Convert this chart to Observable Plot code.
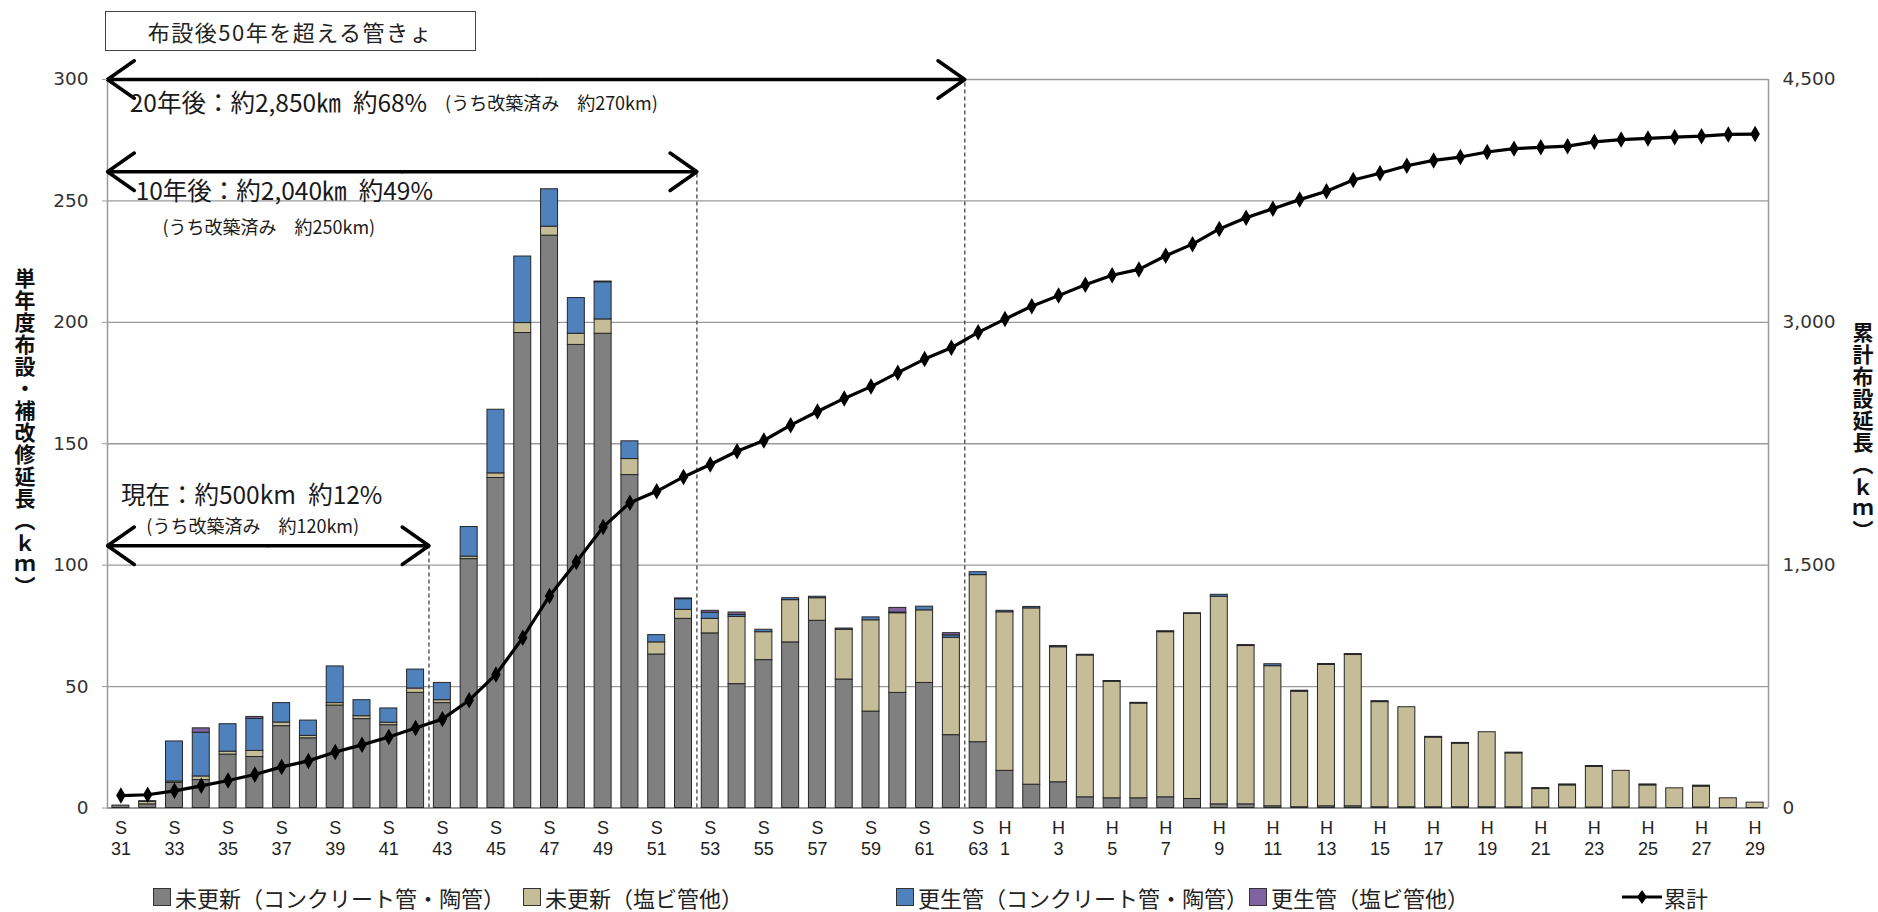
<!DOCTYPE html>
<html>
<head>
<meta charset="utf-8">
<script src="https://cdn.jsdelivr.net/npm/d3@7"></script>
<script src="https://cdn.jsdelivr.net/npm/@observablehq/plot@0.6"></script>
<style>
  body { margin: 0; background: #fff; font-family: "Noto Sans CJK JP", sans-serif; }
  #wrap { position: relative; width: 1878px; height: 912px; overflow: hidden; background: #fff; }
  #chart { position: absolute; left: 0; top: 0; }
  .titlebox { position: absolute; left: 105px; top: 11px; width: 371px; height: 40px; box-sizing: border-box;
    border: 1px solid #444; display: flex; align-items: center; justify-content: center;
    font-size: 22px; color: #222; letter-spacing: 1.5px; }
  .vtitle { position: absolute; writing-mode: vertical-rl; text-orientation: upright; font-weight: bold;
    font-size: 21px; color: #111; letter-spacing: 1px; }
  .legend-item { position: absolute; top: 881px; display: flex; align-items: center; font-size: 22px; color: #222; white-space: nowrap; }
  .sw { width: 16px; height: 16px; border: 1px solid #333; margin-right: 4px; }
</style>
</head>
<body>
<div id="wrap"></div>
<script>
// ---- categories (fiscal years) ----
const categories = [
  "S31","S32","S33","S34","S35","S36","S37","S38","S39","S40","S41","S42","S43","S44","S45","S46","S47",
  "S48","S49","S50","S51","S52","S53","S54","S55","S56","S57","S58","S59","S60","S61","S62","S63",
  "H1","H2","H3","H4","H5","H6","H7","H8","H9","H10","H11","H12","H13","H14","H15","H16","H17","H18",
  "H19","H20","H21","H22","H23","H24","H25","H26","H27","H28","H29"
];
// ---- series values (km per year) ----
const unrenewedConcrete = [
  1.0,1.5,10.3,11.5,22.0,21.0,33.7,28.7,42.2,36.6,34.1,47.4,43.2,102.5,135.9,195.6,235.7,
  190.7,195.3,137.1,63.2,77.9,71.9,51.0,60.9,68.2,77.1,52.9,39.7,47.4,51.5,30.0,27.1,
  15.3,9.6,10.6,4.4,4.0,4.0,4.4,3.7,1.5,1.5,0.7,0.3,0.7,0.7,0.3,0.3,0.3,0.3,
  0.3,0.3,0.2,0.2,0.2,0.2,0.2,0,0.2,0,0
];
const unrenewedPVC = [
  0,1.0,0.6,1.5,1.2,2.5,1.5,1.0,1.0,1.2,1.0,1.8,1.2,1.0,1.9,4.1,3.7,
  4.6,5.9,6.6,5.0,3.7,6.0,27.7,11.5,17.4,9.3,20.5,37.6,32.8,29.9,40.1,68.8,
  65.3,72.6,55.6,58.4,48.0,39.0,68.0,76.2,85.5,65.2,57.7,47.6,58.2,62.3,43.3,41.2,28.7,26.2,
  30.9,22.2,7.6,9.1,16.7,15.1,9.1,8.1,8.6,4.0,2.2
];
const renewedConcrete = [
  0,0.3,16.5,18.0,11.3,13.2,8.0,6.3,15.1,6.6,5.9,7.8,7.1,12.2,26.2,27.4,15.4,
  14.7,15.3,7.3,3.0,4.4,2.5,0.8,1.0,0.8,0.6,0.5,1.2,0.3,1.5,1.0,1.2,
  0.6,0.6,0.5,0.3,0.3,0.3,0.4,0.3,0.8,0.4,0.8,0.4,0.4,0.4,0.4,0,0.3,0.3,
  0,0.3,0.4,0.4,0.4,0,0.4,0,0.4,0,0
];
const renewedPVC = [
  0,0,0,1.8,0,0.8,0,0,0,0,0,0,0,0,0,0,0,
  0,0.3,0,0,0.3,0.8,1.0,0,0,0,0,0,1.9,0,0.9,0,
  0,0,0,0,0,0,0,0,0,0,0,0,0,0,0,0,0,0,
  0,0,0,0,0,0,0,0,0,0,0
];
// ---- cumulative length (km, right axis) ----
const cumulative = [
  77,82,106,137,170,207,254,291,346,390,439,494,549,666,825,1052,1310,
  1520,1736,1886,1956,2045,2122,2204,2270,2365,2449,2530,2603,2689,2773,2843,2938,
  3020,3099,3165,3232,3291,3327,3411,3483,3577,3646,3702,3758,3810,3879,3921,3967,4000,4021,
  4052,4073,4081,4088,4115,4129,4136,4144,4150,4161,4163
];
const seriesNames = ["未更新（コンクリート管・陶管）","未更新（塩ビ管他）","更生管（コンクリート管・陶管）","更生管（塩ビ管他）"];
const seriesColors = ["#808080","#C4BD97","#4F81BD","#8064A2"];
const cumulativeName = "累計";
// ---- tick labels ----
const leftTicks = [0,50,100,150,200,250,300];
const rightTicks = [0,1500,3000,4500];
const labeledCategories = ["S31","S33","S35","S37","S39","S41","S43","S45","S47","S49","S51","S53","S55","S57","S59","S61","S63",
  "H1","H3","H5","H7","H9","H11","H13","H15","H17","H19","H21","H23","H25","H27","H29"];
// ---- annotations: span from first year to end of given year, at left-axis level ----
const spanEnds = ["S42","S52","S62"];
const spanLevels = [108,262,300];
const headNotes = ["現在：約500km\u2002約12%","10年後：約2,040㎞\u2002約49%","20年後：約2,850㎞\u2002約68%"];
const headNoteAt = [[0.5,128.5],[1.05,253.5],[0.83,290]];
const subNotes = ["(うち改築済み　約120km)","(うち改築済み　約250km)","(うち改築済み　約270km)"];
const subNoteAt = [[1.45,115.5],[2.05,238.7],[12.6,289.8]];
const titleText = "布設後50年を超える管きょ";
const leftTitle = "単年度布設・補改修延長（ｋｍ）";
const rightTitle = "累計布設延長（ｋｍ）";

// ---- build tables ----
const series = [unrenewedConcrete, unrenewedPVC, renewedConcrete, renewedPVC];
const rows = [];
series.forEach((vals, s) => vals.forEach((v, i) => rows.push({i, i2: i + 1, v, s: seriesNames[s]})));
const cumRows = cumulative.map((c, i) => ({i, c}));
const idx = name => categories.indexOf(name);
const spans = spanEnds.map((e, k) => ({end: idx(e) + 1, mid: (idx(e) + 1) / 2, y: spanLevels[k]}));
const heads = headNotes.map((t, k) => ({t, x: headNoteAt[k][0], y: headNoteAt[k][1]}));
const subs = subNotes.map((t, k) => ({t, x: subNoteAt[k][0], y: subNoteAt[k][1]}));
const RATIO = 4500 / 300;
const nCat = categories.length;
const tickPos = labeledCategories.map(c => idx(c) + 0.5);
const tickFont = "'Liberation Sans', 'DejaVu Sans', sans-serif";

const chart = Plot.plot({
  width: 1878,
  height: 870,
  marginLeft: 107,
  marginRight: 110,
  marginTop: 79,
  marginBottom: 62.5,
  style: {fontFamily: "'Noto Sans CJK JP', sans-serif", background: "#fff", overflow: "visible"},
  x: {type: "linear", domain: [0, nCat], axis: null},
  y: {domain: [0, 300], axis: null},
  color: {domain: seriesNames, range: seriesColors},
  marks: [
    Plot.gridY(leftTicks.slice(1), {stroke: "#9a9a9a", strokeOpacity: 1, strokeWidth: 1.3}),
    Plot.ruleX([0, nCat], {stroke: "#9a9a9a", strokeWidth: 1.5}),
    Plot.ruleY([0], {stroke: "#9a9a9a", strokeWidth: 2}),
    Plot.rectY(rows, {x1: "i", x2: "i2", y: "v", fill: "s", insetLeft: 4.9, insetRight: 4.9,
      stroke: "#262626", strokeWidth: 1}),
    Plot.ruleX(spans, {x: "end", y1: 0, y2: "y", stroke: "#444", strokeWidth: 1.3, strokeDasharray: "4,3"}),
    Plot.line(cumRows, {x: d => d.i + 0.5, y: d => d.c / RATIO, stroke: "#000", strokeWidth: 3.2}),
    Plot.dot(cumRows, {x: d => d.i + 0.5, y: d => d.c / RATIO, symbol: "diamond", r: 5, fill: "#000"}),
    Plot.arrow(spans, {x1: "mid", x2: 0, y1: "y", y2: "y", stroke: "#000", strokeWidth: 3.5, headLength: 14, headAngle: 70}),
    Plot.arrow(spans, {x1: "mid", x2: "end", y1: "y", y2: "y", stroke: "#000", strokeWidth: 3.5, headLength: 14, headAngle: 70}),
    Plot.text(heads, {x: "x", y: "y", text: "t", textAnchor: "start", fontSize: 24.5, fill: "#1a1a1a"}),
    Plot.text(subs, {x: "x", y: "y", text: "t", textAnchor: "start", fontSize: 18, fill: "#1a1a1a"}),
    Plot.axisY(leftTicks, {anchor: "left", tickSize: 5, tickPadding: 14, stroke: "#9a9a9a", label: null,
      fontSize: 18.5, fontFamily: "'DejaVu Sans', sans-serif", fill: "#333"}),
    Plot.axisY(rightTicks.map(v => v / RATIO), {anchor: "right", tickSize: 0, tickPadding: 14, label: null,
      tickFormat: d => d3.format(",")(Math.round(d * RATIO)),
      fontSize: 18.5, fontFamily: "'DejaVu Sans', sans-serif", fill: "#333"}),
    // era letter line
    Plot.axisX(tickPos, {anchor: "bottom", tickSize: 0, tickPadding: 13, label: null,
      tickFormat: d => categories[Math.floor(d)][0],
      fontSize: 18, fontFamily: tickFont, fill: "#222"}),
    // year number line
    Plot.axisX(tickPos, {anchor: "bottom", tickSize: 0, tickPadding: 34.5, label: null,
      tickFormat: d => categories[Math.floor(d)].slice(1),
      fontSize: 18, fontFamily: tickFont, fill: "#222"})
  ]
});
chart.id = "chart";
const wrap = document.getElementById("wrap");
wrap.appendChild(chart);

// title box
const tb = document.createElement("div");
tb.className = "titlebox"; tb.textContent = titleText; wrap.appendChild(tb);
// axis titles
const lt = document.createElement("div");
lt.className = "vtitle"; lt.textContent = leftTitle;
lt.style.left = "10px"; lt.style.top = "268px"; wrap.appendChild(lt);
const rt = document.createElement("div");
rt.className = "vtitle"; rt.textContent = rightTitle;
rt.style.left = "1848px"; rt.style.top = "322px"; wrap.appendChild(rt);

// legend
const legendLeft = [153, 523, 896, 1249];
seriesNames.forEach((n, k) => {
  const it = document.createElement("div");
  it.className = "legend-item"; it.style.left = legendLeft[k] + "px";
  it.innerHTML = `<div class="sw" style="background:${seriesColors[k]}"></div><span>${n}</span>`;
  wrap.appendChild(it);
});
const li = document.createElement("div");
li.className = "legend-item"; li.style.left = "1620px";
li.innerHTML = `<svg width="44" height="20"><line x1="2" y1="10" x2="42" y2="10" stroke="#000" stroke-width="3"/><path d="M22,3 L27,10 L22,17 L17,10 Z" fill="#000"/></svg><span>${cumulativeName}</span>`;
wrap.appendChild(li);
</script>
</body>
</html>
